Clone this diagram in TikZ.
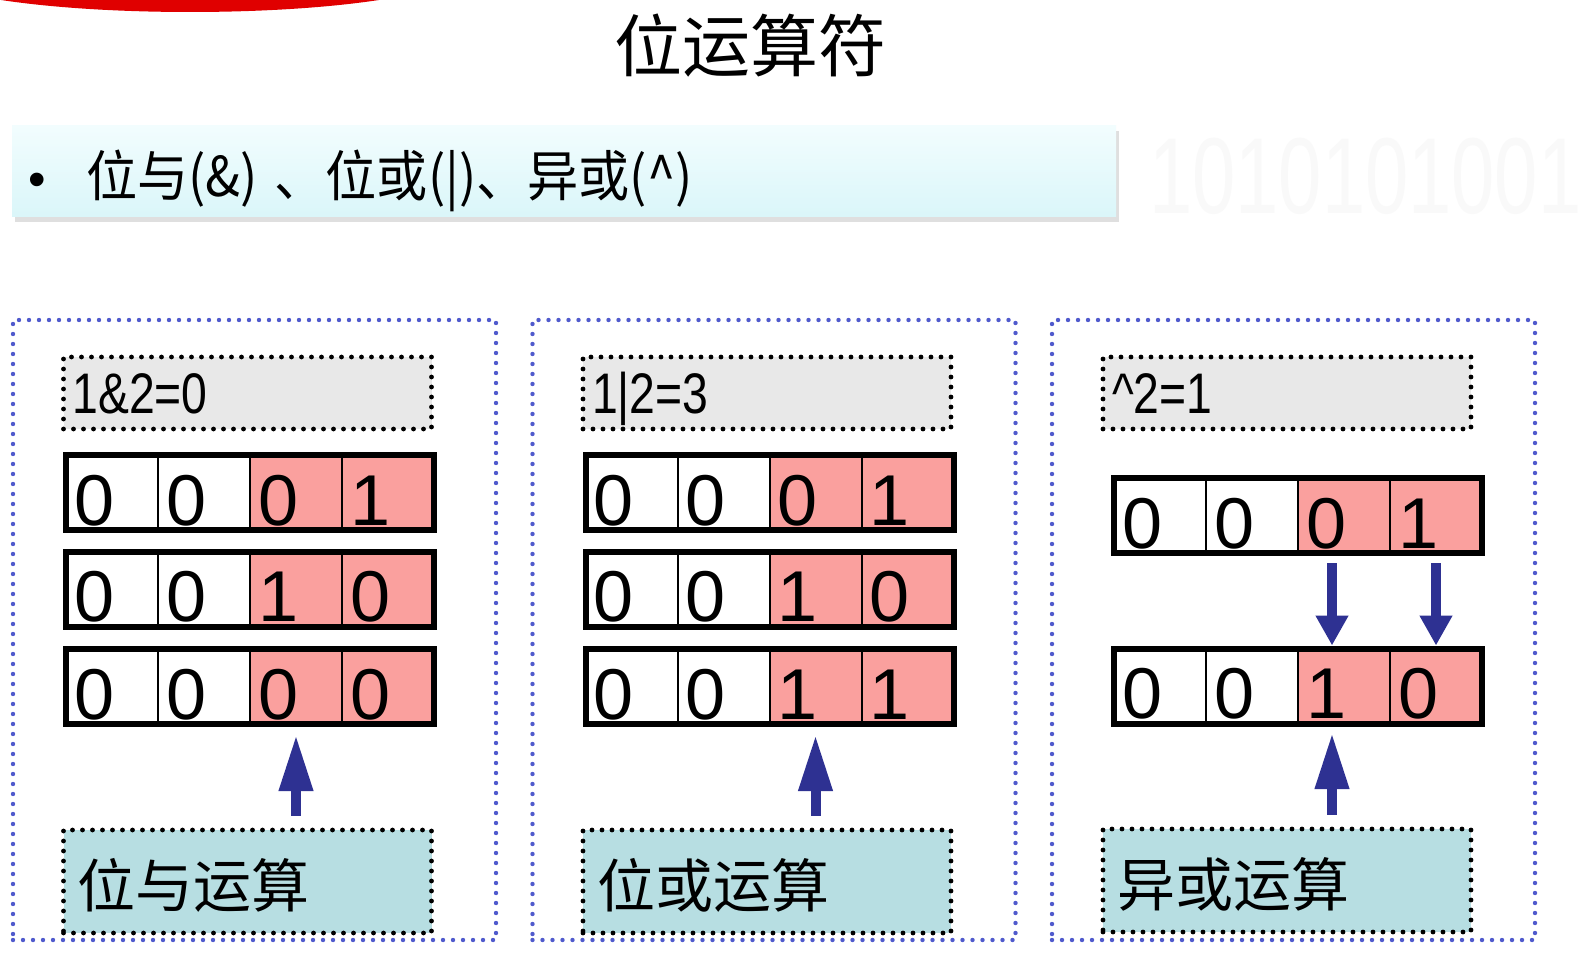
\documentclass[tikz,border=0pt]{standalone}
\usepackage{fontspec}
\setmainfont{Liberation Sans}
\newfontfamily\heiti{Noto Sans CJK SC}
\usetikzlibrary{positioning, arrows.meta, shadows}

\definecolor{bitpink}{RGB}{250,160,158}
\definecolor{labelgray}{RGB}{232,232,232}
\definecolor{opteal}{RGB}{183,222,226}
\definecolor{arrowblue}{RGB}{46,49,146}
\definecolor{dotblue}{RGB}{80,90,205}
\definecolor{bannertop}{RGB}{242,253,254}
\definecolor{bannerbottom}{RGB}{218,246,249}

\tikzset{
  panelbox/.style={rectangle, draw=dotblue, line width=2.2pt, dash pattern=on 0pt off 5pt, line cap=round, minimum width=241.5pt, minimum height=310pt},
  labelbox/.style={rectangle, draw, line width=2.4pt, dash pattern=on 0pt off 5pt, line cap=round, fill=labelgray, minimum width=184pt, minimum height=36pt, inner xsep=4.5pt, text width=175pt, align=left, text height=20.5pt, text depth=0pt, font=\fontsize{28.6}{30}\selectfont},
  opbox/.style={labelbox, fill=opteal, minimum height=51.5pt, inner xsep=7pt, text width=170pt, text height=25.5pt, text depth=0pt, font=\heiti\fontsize{29}{30}\selectfont},
  bitcell/.style={rectangle, draw, line width=1pt, outer sep=0pt, inner sep=0pt, inner xsep=4pt, minimum width=46pt, minimum height=37.5pt, text width=38pt, align=left, text height=32.5pt, text depth=0pt, font=\fontsize{36}{36}\selectfont},
  lowbit/.style={bitcell, fill=white},
  highbit/.style={bitcell, fill=bitpink},
  rowframe/.style={draw, line width=3pt},
  uparrow/.style={draw=arrowblue, line width=5pt, -{Triangle[width=16pt,length=28pt]}},
  downarrow/.style={draw=arrowblue, line width=5pt, -{Triangle[width=15.5pt,length=15pt]}},
  banner/.style={rectangle, minimum width=552pt, minimum height=45.5pt, top color=bannertop, bottom color=bannerbottom, drop shadow={shadow xshift=1.5pt, shadow yshift=-2.5pt, opacity=0.25}, inner xsep=8pt, text width=536pt, align=left, text height=25.5pt, text depth=0pt, font=\heiti\fontsize{27.5}{28}\selectfont}
}

% one row of four bits: name, west point, digits
\newcommand\bitrow[6]{%
  \node[lowbit, anchor=west] (#1a) at (#2) {#3};
  \node[lowbit, right=0pt of #1a] (#1b) {#4};
  \node[highbit, right=0pt of #1b] (#1c) {#5};
  \node[highbit, right=0pt of #1c] (#1d) {#6};
  \draw[rowframe] (#1a.north west) rectangle (#1d.south east);
}

\begin{document}
\begin{tikzpicture}[x=0.5pt, y=-0.5pt]
\useasboundingbox (0,0) rectangle (1584,978);
\fill[white] (0,0) rectangle (1584,978);
% background
\fill[red!88!black] (190,-30) ellipse [x radius=270, y radius=42];
\node[anchor=west, text=black!2.5, font=\fontsize{54}{54}\selectfont] (watermark) at (1142,176) {\scalebox{0.72}[1]{1010101001}};

\node[font=\heiti\fontsize{34}{34}\selectfont] (title) at (750,46) {位运算符};
\node[banner] (intro) at (564,171.5) {\makebox[29pt][l]{\normalfont\fontsize{25}{25}\selectfont\textbullet}\scalebox{0.93}[1]{位与(\&) 、位或(|)、异或(\textasciicircum)}};

% and
\node[panelbox] (andpanel) at (254.5,630) {};
\node[labelbox] (andlabel) at (247.5,393) {\scalebox{0.81}[1]{1\&2=0}};
\bitrow{and1}{66,492.5}{0}{0}{0}{1}
\bitrow{and2}{66,589}{0}{0}{1}{0}
\bitrow{and3}{66,686.5}{0}{0}{0}{0}
\node[opbox] (andop) at (247.5,881.5) {位与运算};
\draw[uparrow, shorten <=6pt, shorten >=5.5pt] (and3c.south |- andop.north) -- (and3c.south);

% or
\node[panelbox] (orpanel) at (774,630) {};
\node[labelbox] (orlabel) at (767,393) {\scalebox{0.81}[1]{1|2=3}};
\bitrow{or1}{585.5,492.5}{0}{0}{0}{1}
\bitrow{or2}{585.5,589}{0}{0}{1}{0}
\bitrow{or3}{585.5,686.5}{0}{0}{1}{1}
\node[opbox] (orop) at (767,881.5) {位或运算};
\draw[uparrow, shorten <=6pt, shorten >=5.5pt] (or3c.south |- orop.north) -- (or3c.south);

% xor
\node[panelbox] (xorpanel) at (1293.5,630) {};
\node[labelbox] (xorlabel) at (1287,393) {\scalebox{0.81}[1]{\textasciicircum 2=1}};
\bitrow{xor1}{1114,515.5}{0}{0}{0}{1}
\bitrow{xor2}{1114,686}{0}{0}{1}{0}
\node[opbox] (xorop) at (1287,880.5) {异或运算};
\coordinate (xorshaft) at ([xshift=-6pt]xor2c.south);
\draw[downarrow, shorten <=5pt, shorten >=1.5pt] ([xshift=-6pt]xor1c.south) -- ([xshift=-6pt]xor2c.north);
\draw[downarrow, shorten <=5pt, shorten >=1.5pt] (xor1d.south) -- (xor2d.north);
\draw[uparrow, shorten <=6pt, shorten >=4.75pt] (xorshaft |- xorop.north) -- (xorshaft);
\end{tikzpicture}
\end{document}
